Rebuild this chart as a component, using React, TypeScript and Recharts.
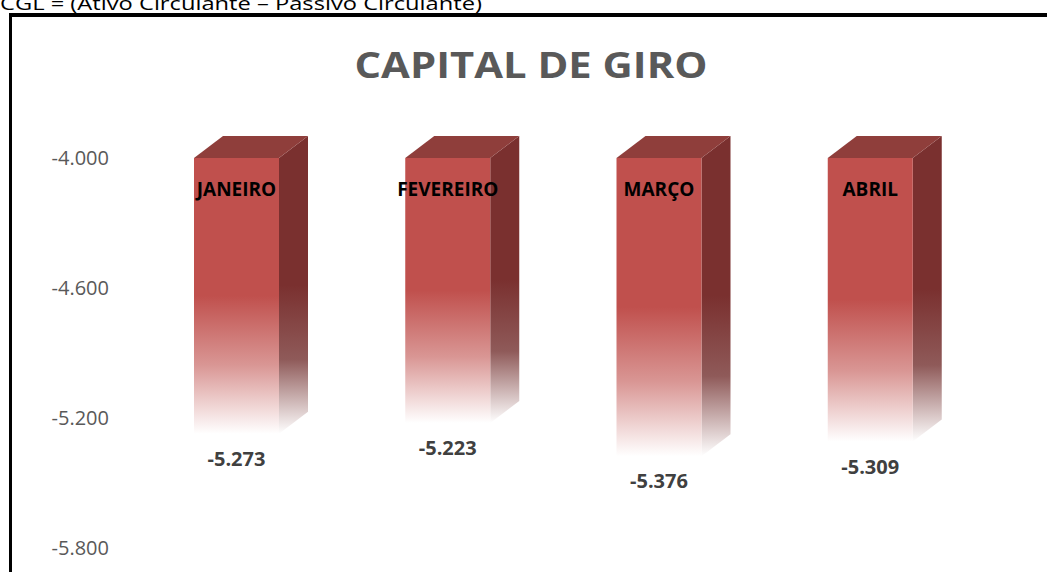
import React from 'react';
import { BarChart, Bar, XAxis, YAxis } from 'recharts';

const months = ['JANEIRO', 'FEVEREIRO', 'MARÇO', 'ABRIL'];
const capitalGiro = [-5273, -5223, -5376, -5309];
const yTicks = [-4000, -4600, -5200, -5800];
const yDomain = [-5800, -4000];

const data = months.map((m, i) => ({ name: m, value: capitalGiro[i] }));

const FONT = '"Open Sans", "Noto Sans", sans-serif';

const fmt = (v: number) => {
  const neg = v < 0;
  const s = Math.abs(Math.round(v)).toString().replace(/\B(?=(\d{3})+(?!\d))/g, '.');
  return (neg ? '-' : '') + s;
};

const DX = 29;
const DY = 22;

const Bar3D = (props: any) => {
  const { x, y, width, height, payload } = props;
  const top = Math.min(y, y + height);
  const h = Math.abs(height);
  const left = x;
  const right = x + width;
  const bottom = top + h;
  const cx = x + width / 2;
  return (
    <g>
      <polygon
        points={`${right},${top} ${right + DX},${top - DY} ${right + DX},${bottom - DY} ${right},${bottom}`}
        fill="url(#sideGrad)"
      />
      <polygon
        points={`${left},${top} ${left + DX},${top - DY} ${right + DX},${top - DY} ${right},${top}`}
        fill="#8F3E3B"
      />
      <rect x={left} y={top} width={width} height={h} fill="url(#frontGrad)" />
      <text
        x={cx}
        y={top + 38}
        textAnchor="middle"
        fontFamily={FONT}
        fontWeight={700}
        fontSize={19}
        fill="#000000"
      >
        {payload.name}
      </text>
      <text
        x={cx}
        y={bottom + 32}
        textAnchor="middle"
        fontFamily={FONT}
        fontWeight={700}
        fontSize={20}
        fill="#404040"
      >
        {fmt(payload.value)}
      </text>
    </g>
  );
};

export default function App() {
  return (
    <div
      style={{
        position: 'absolute',
        left: 0,
        top: 0,
        width: 1047,
        height: 572,
        overflow: 'hidden',
        background: '#ffffff',
      }}
    >
      <svg width={1047} height={572} style={{ position: 'absolute', left: 0, top: 0 }}>
        <text x={0} y={10} fontFamily={FONT} fontSize={18} fill="#000000" textLength={482} lengthAdjust="spacingAndGlyphs">
          CGL = (Ativo Circulante – Passivo Circulante)
        </text>
        <rect x={9} y={13} width={1050} height={4} fill="#000000" />
        <rect x={9} y={13} width={3} height={570} fill="#000000" />
        <text
          x={531}
          y={78}
          textAnchor="middle"
          fontFamily={FONT}
          fontWeight={700}
          fontSize={35}
          fill="#595959"
          textLength={353}
          lengthAdjust="spacingAndGlyphs"
        >
          CAPITAL DE GIRO
        </text>
      </svg>
      <div style={{ position: 'absolute', left: 0, top: 0 }}>
        <BarChart
          width={1047}
          height={572}
          data={data}
          margin={{ top: 158, right: 71, bottom: 24, left: 11 }}
        >
          <defs>
            <linearGradient id="frontGrad" x1="0" y1="0" x2="0" y2="1">
              <stop offset="0" stopColor="#C0504D" />
              <stop offset="0.5" stopColor="#C0504D" />
              <stop offset="0.75" stopColor="#D99694" />
              <stop offset="1" stopColor="#FFFFFF" />
            </linearGradient>
            <linearGradient id="sideGrad" x1="0" y1="0" x2="0" y2="1">
              <stop offset="0" stopColor="#7A302F" />
              <stop offset="0.5" stopColor="#7A302F" />
              <stop offset="0.75" stopColor="#8F5A59" />
              <stop offset="1" stopColor="#FFFFFF" />
            </linearGradient>
          </defs>
          <XAxis dataKey="name" hide />
          <YAxis
            type="number"
            domain={yDomain}
            ticks={yTicks}
            width={120}
            axisLine={false}
            tickLine={false}
            tickSize={0}
            tickMargin={22}
            tickFormatter={fmt}
            tick={{ fill: '#595959', fontSize: 20, fontFamily: FONT }}
          />
          <Bar dataKey="value" barSize={85} shape={<Bar3D />} isAnimationActive={false} />
        </BarChart>
      </div>
    </div>
  );
}
